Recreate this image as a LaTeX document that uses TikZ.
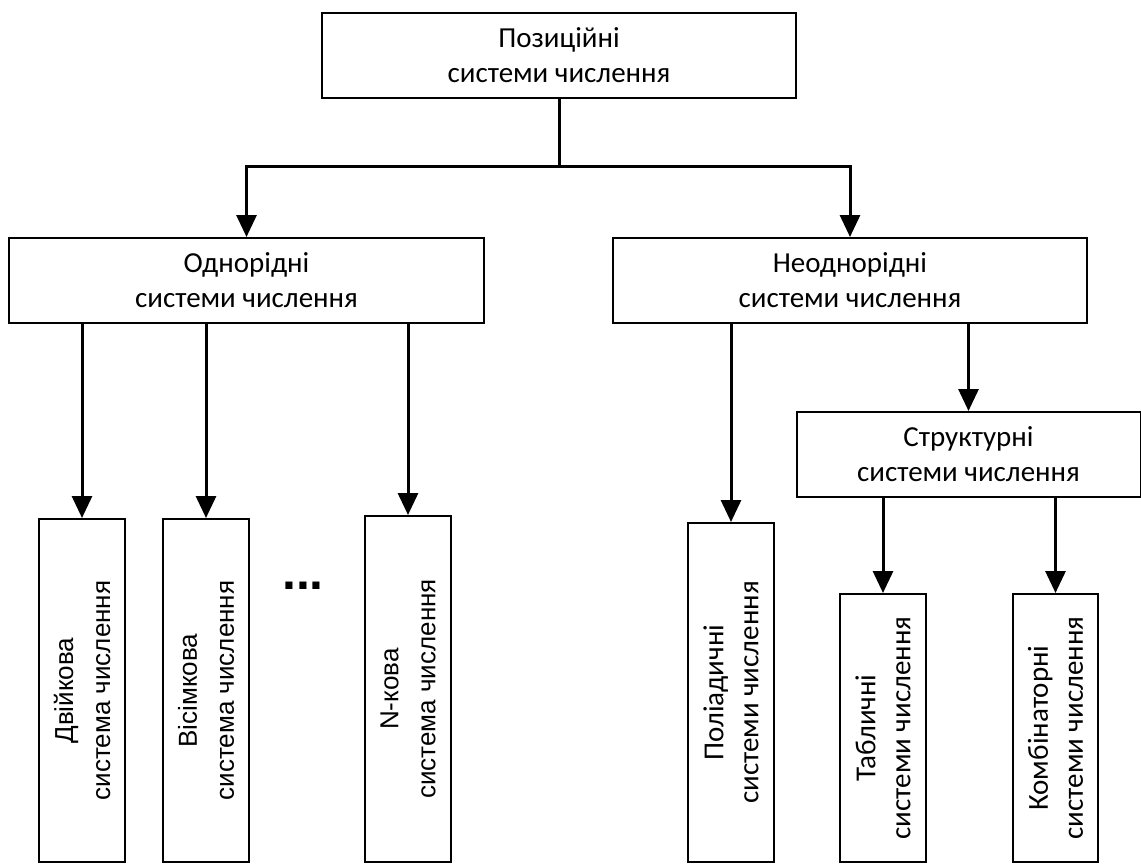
\documentclass[tikz,border=0pt]{standalone}
\usepackage{fontspec}
\setmainfont{Carlito}
\newfontfamily\libsans{Liberation Sans}
\usetikzlibrary{arrows.meta}
\tikzset{>={Triangle[length=11pt,width=10pt]}}
\tikzset{
  levelbox/.style={draw,line width=1pt,align=center,inner sep=0pt,
    font=\fontsize{14.5}{17.5}\selectfont},
  leafbox/.style={draw,line width=1pt,align=center,inner sep=0pt,rotate=90},
  arialtext/.style={font=\libsans\fontsize{13}{18.5}\selectfont},
  calibritext/.style={font=\fontsize{14.5}{17.5}\selectfont},
  link/.style={line width=1.5pt}
}
\begin{document}
\begin{tikzpicture}[x=0.5pt,y=-0.5pt]
  \useasboundingbox (0,0) rectangle (1141,863);
  \node[levelbox,line width=1.4pt,minimum width=237pt,minimum height=42.5pt] (pos) at (559,55.5) {Позиційні\\системи числення};
  \node[levelbox,minimum width=237.5pt,minimum height=42.5pt] (odn) at (246.5,280.5) {Однорідні\\системи числення};
  \node[levelbox,minimum width=237pt,minimum height=42.5pt] (neodn) at (850,280.5) {Неоднорідні\\системи числення};
  \node[levelbox,minimum width=172pt,minimum height=42.5pt] (struct) at (968.5,454.5) {Структурні\\системи числення};
  \node[leafbox,arialtext,minimum width=171.5pt,minimum height=43pt] (dvi) at (82,690.5) {Двійкова\\система числення};
  \node[leafbox,arialtext,minimum width=171.5pt,minimum height=43pt] (visim) at (206,690.5) {Вісімкова\\система числення};
  \node[leafbox,arialtext,minimum width=173pt,minimum height=43pt] (nkova) at (408,689) {N-кова\\система числення};
  \node[anchor=base,font=\libsans\bfseries\fontsize{25}{25}\selectfont] (etc) at (303,589) {...};
  \node[leafbox,calibritext,minimum width=169.5pt,minimum height=43pt] (poli) at (731,692.5) {Поліадичні\\системи числення};
  \node[leafbox,calibritext,minimum width=134pt,minimum height=43pt] (tabl) at (883,728) {Табличні\\системи числення};
  \node[leafbox,calibritext,minimum width=134pt,minimum height=42.5pt] (komb) at (1055.5,728) {Комбінаторні\\системи числення};
  \coordinate (fork) at (559,166);
  \draw[link] (pos.south) -- (fork);
  \draw[link,->] (fork) -| (odn.north);
  \draw[link,->] (fork) -| (neodn.north);
  \draw[link,->] (odn.south -| dvi) -- (dvi.east);
  \draw[link,->] (odn.south -| visim) -- (visim.east);
  \draw[link,->] (odn.south -| nkova) -- (nkova.east);
  \draw[link,->] (neodn.south -| poli) -- (poli.east);
  \draw[link,->] (neodn.south -| struct) -- (struct.north);
  \draw[link,->] (struct.south -| tabl) -- (tabl.east);
  \draw[link,->] (struct.south -| komb) -- (komb.east);
\end{tikzpicture}
\end{document}
